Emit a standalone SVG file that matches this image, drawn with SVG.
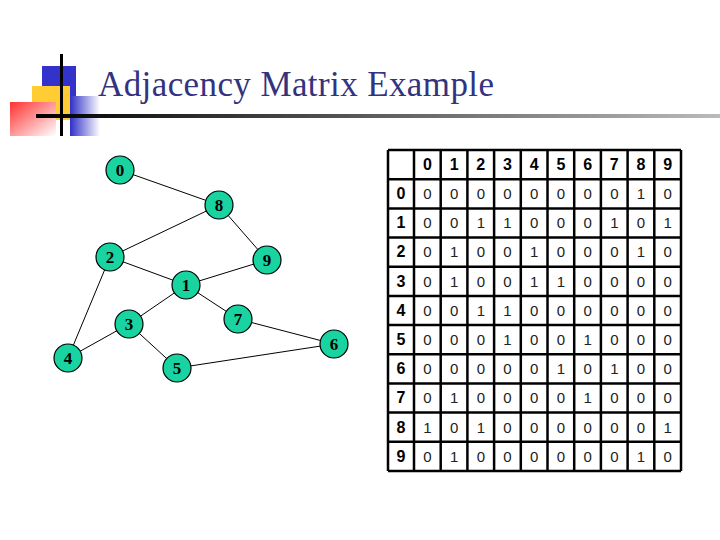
<svg xmlns="http://www.w3.org/2000/svg" width="720" height="540" viewBox="0 0 720 540">
<style>
.n circle{fill:#19d3a0;stroke:#000;stroke-width:1.2}
.n text{font-family:"Liberation Serif",serif;font-size:17px;font-weight:bold;text-anchor:middle;fill:#000}
#edges line{stroke:#000;stroke-width:1}
.h{font-family:"Liberation Sans",sans-serif;font-size:16px;font-weight:bold;text-anchor:middle}
.d{font-family:"Liberation Sans",sans-serif;font-size:15px;text-anchor:middle;fill:#222}
.g line{stroke:#000;stroke-width:2.5}
</style>
<defs>
<linearGradient id="red" x1="0" y1="0" x2="1" y2="1"><stop offset="0" stop-color="#ff3030"/><stop offset="1" stop-color="#fff"/></linearGradient>
<linearGradient id="blu" x1="0" y1="0" x2="1" y2="0"><stop offset="0" stop-color="#3030c8"/><stop offset="1" stop-color="#fff"/></linearGradient>
<linearGradient id="ln" x1="0" y1="0" x2="1" y2="0"><stop offset="0" stop-color="#000"/><stop offset="1" stop-color="#bbb"/></linearGradient>
</defs>
<rect width="720" height="540" fill="#fff"/>
<g id="logo">
<rect x="42" y="66" width="34" height="36" fill="#3333cc"/>
<rect x="32" y="86" width="38" height="34" fill="#ffcc33"/>
<rect x="70" y="96" width="30" height="40" fill="url(#blu)"/>
<rect x="10" y="102" width="46" height="34" fill="url(#red)"/>
<rect x="36" y="114" width="684" height="4" fill="url(#ln)"/>
<rect x="60" y="54" width="3" height="82" fill="#000"/>
</g>
<text x="98" y="96" font-family="Liberation Serif,serif" font-size="35" fill="#333380" textLength="396">Adjacency Matrix Example</text>
<g id="edges">
<line x1="120" y1="170" x2="219" y2="205"/>
<line x1="219" y1="205" x2="110" y2="257"/>
<line x1="219" y1="205" x2="267" y2="260"/>
<line x1="110" y1="257" x2="186" y2="285"/>
<line x1="186" y1="285" x2="267" y2="260"/>
<line x1="110" y1="257" x2="68" y2="358"/>
<line x1="186" y1="285" x2="129" y2="324"/>
<line x1="186" y1="285" x2="238" y2="319"/>
<line x1="129" y1="324" x2="68" y2="358"/>
<line x1="129" y1="324" x2="177" y2="368"/>
<line x1="238" y1="319" x2="334" y2="344"/>
<line x1="177" y1="368" x2="334" y2="344"/>
</g>
<g id="n0" class="n"><circle cx="120" cy="170" r="14"/><text x="120" y="176">0</text></g>
<g id="n8" class="n"><circle cx="219" cy="205" r="14"/><text x="219" y="211">8</text></g>
<g id="n2" class="n"><circle cx="110" cy="257" r="14"/><text x="110" y="263">2</text></g>
<g id="n9" class="n"><circle cx="267" cy="260" r="14"/><text x="267" y="266">9</text></g>
<g id="n1" class="n"><circle cx="186" cy="285" r="14"/><text x="186" y="291">1</text></g>
<g id="n3" class="n"><circle cx="129" cy="324" r="14"/><text x="129" y="330">3</text></g>
<g id="n7" class="n"><circle cx="238" cy="319" r="14"/><text x="238" y="325">7</text></g>
<g id="n6" class="n"><circle cx="334" cy="344" r="14"/><text x="334" y="350">6</text></g>
<g id="n4" class="n"><circle cx="68" cy="358" r="14"/><text x="68" y="364">4</text></g>
<g id="n5" class="n"><circle cx="177" cy="368" r="14"/><text x="177" y="374">5</text></g>
<g id="matrix">
<rect x="388" y="150" width="293" height="321" fill="#fff"/>
<g class="g">
<line x1="388" y1="150" x2="681" y2="150"/><line x1="388" y1="179.2" x2="681" y2="179.2"/><line x1="388" y1="208.4" x2="681" y2="208.4"/><line x1="388" y1="237.5" x2="681" y2="237.5"/><line x1="388" y1="266.7" x2="681" y2="266.7"/><line x1="388" y1="295.9" x2="681" y2="295.9"/><line x1="388" y1="325.1" x2="681" y2="325.1"/><line x1="388" y1="354.3" x2="681" y2="354.3"/><line x1="388" y1="383.5" x2="681" y2="383.5"/><line x1="388" y1="412.6" x2="681" y2="412.6"/><line x1="388" y1="441.8" x2="681" y2="441.8"/><line x1="388" y1="471" x2="681" y2="471"/>
<line x1="388" y1="150" x2="388" y2="471"/><line x1="414" y1="150" x2="414" y2="471"/><line x1="440.7" y1="150" x2="440.7" y2="471"/><line x1="467.4" y1="150" x2="467.4" y2="471"/><line x1="494.1" y1="150" x2="494.1" y2="471"/><line x1="520.8" y1="150" x2="520.8" y2="471"/><line x1="547.5" y1="150" x2="547.5" y2="471"/><line x1="574.2" y1="150" x2="574.2" y2="471"/><line x1="600.9" y1="150" x2="600.9" y2="471"/><line x1="627.6" y1="150" x2="627.6" y2="471"/><line x1="654.3" y1="150" x2="654.3" y2="471"/><line x1="681" y1="150" x2="681" y2="471"/>
</g>
<g class="h">
<text x="427.4" y="170">0</text><text x="454.1" y="170">1</text><text x="480.8" y="170">2</text><text x="507.5" y="170">3</text><text x="534.2" y="170">4</text><text x="560.9" y="170">5</text><text x="587.6" y="170">6</text><text x="614.3" y="170">7</text><text x="641" y="170">8</text><text x="667.7" y="170">9</text>
<text x="401" y="199">0</text><text x="401" y="228">1</text><text x="401" y="257">2</text><text x="401" y="287">3</text><text x="401" y="316">4</text><text x="401" y="345">5</text><text x="401" y="374">6</text><text x="401" y="403">7</text><text x="401" y="433">8</text><text x="401" y="462">9</text>
</g>
<g class="d">
<text y="199"><tspan x="427.4">0</tspan><tspan x="454.1">0</tspan><tspan x="480.8">0</tspan><tspan x="507.5">0</tspan><tspan x="534.2">0</tspan><tspan x="560.9">0</tspan><tspan x="587.6">0</tspan><tspan x="614.3">0</tspan><tspan x="641">1</tspan><tspan x="667.7">0</tspan></text>
<text y="228"><tspan x="427.4">0</tspan><tspan x="454.1">0</tspan><tspan x="480.8">1</tspan><tspan x="507.5">1</tspan><tspan x="534.2">0</tspan><tspan x="560.9">0</tspan><tspan x="587.6">0</tspan><tspan x="614.3">1</tspan><tspan x="641">0</tspan><tspan x="667.7">1</tspan></text>
<text y="257"><tspan x="427.4">0</tspan><tspan x="454.1">1</tspan><tspan x="480.8">0</tspan><tspan x="507.5">0</tspan><tspan x="534.2">1</tspan><tspan x="560.9">0</tspan><tspan x="587.6">0</tspan><tspan x="614.3">0</tspan><tspan x="641">1</tspan><tspan x="667.7">0</tspan></text>
<text y="287"><tspan x="427.4">0</tspan><tspan x="454.1">1</tspan><tspan x="480.8">0</tspan><tspan x="507.5">0</tspan><tspan x="534.2">1</tspan><tspan x="560.9">1</tspan><tspan x="587.6">0</tspan><tspan x="614.3">0</tspan><tspan x="641">0</tspan><tspan x="667.7">0</tspan></text>
<text y="316"><tspan x="427.4">0</tspan><tspan x="454.1">0</tspan><tspan x="480.8">1</tspan><tspan x="507.5">1</tspan><tspan x="534.2">0</tspan><tspan x="560.9">0</tspan><tspan x="587.6">0</tspan><tspan x="614.3">0</tspan><tspan x="641">0</tspan><tspan x="667.7">0</tspan></text>
<text y="345"><tspan x="427.4">0</tspan><tspan x="454.1">0</tspan><tspan x="480.8">0</tspan><tspan x="507.5">1</tspan><tspan x="534.2">0</tspan><tspan x="560.9">0</tspan><tspan x="587.6">1</tspan><tspan x="614.3">0</tspan><tspan x="641">0</tspan><tspan x="667.7">0</tspan></text>
<text y="374"><tspan x="427.4">0</tspan><tspan x="454.1">0</tspan><tspan x="480.8">0</tspan><tspan x="507.5">0</tspan><tspan x="534.2">0</tspan><tspan x="560.9">1</tspan><tspan x="587.6">0</tspan><tspan x="614.3">1</tspan><tspan x="641">0</tspan><tspan x="667.7">0</tspan></text>
<text y="403"><tspan x="427.4">0</tspan><tspan x="454.1">1</tspan><tspan x="480.8">0</tspan><tspan x="507.5">0</tspan><tspan x="534.2">0</tspan><tspan x="560.9">0</tspan><tspan x="587.6">1</tspan><tspan x="614.3">0</tspan><tspan x="641">0</tspan><tspan x="667.7">0</tspan></text>
<text y="433"><tspan x="427.4">1</tspan><tspan x="454.1">0</tspan><tspan x="480.8">1</tspan><tspan x="507.5">0</tspan><tspan x="534.2">0</tspan><tspan x="560.9">0</tspan><tspan x="587.6">0</tspan><tspan x="614.3">0</tspan><tspan x="641">0</tspan><tspan x="667.7">1</tspan></text>
<text y="462"><tspan x="427.4">0</tspan><tspan x="454.1">1</tspan><tspan x="480.8">0</tspan><tspan x="507.5">0</tspan><tspan x="534.2">0</tspan><tspan x="560.9">0</tspan><tspan x="587.6">0</tspan><tspan x="614.3">0</tspan><tspan x="641">1</tspan><tspan x="667.7">0</tspan></text>
</g>
</g>
</svg>
